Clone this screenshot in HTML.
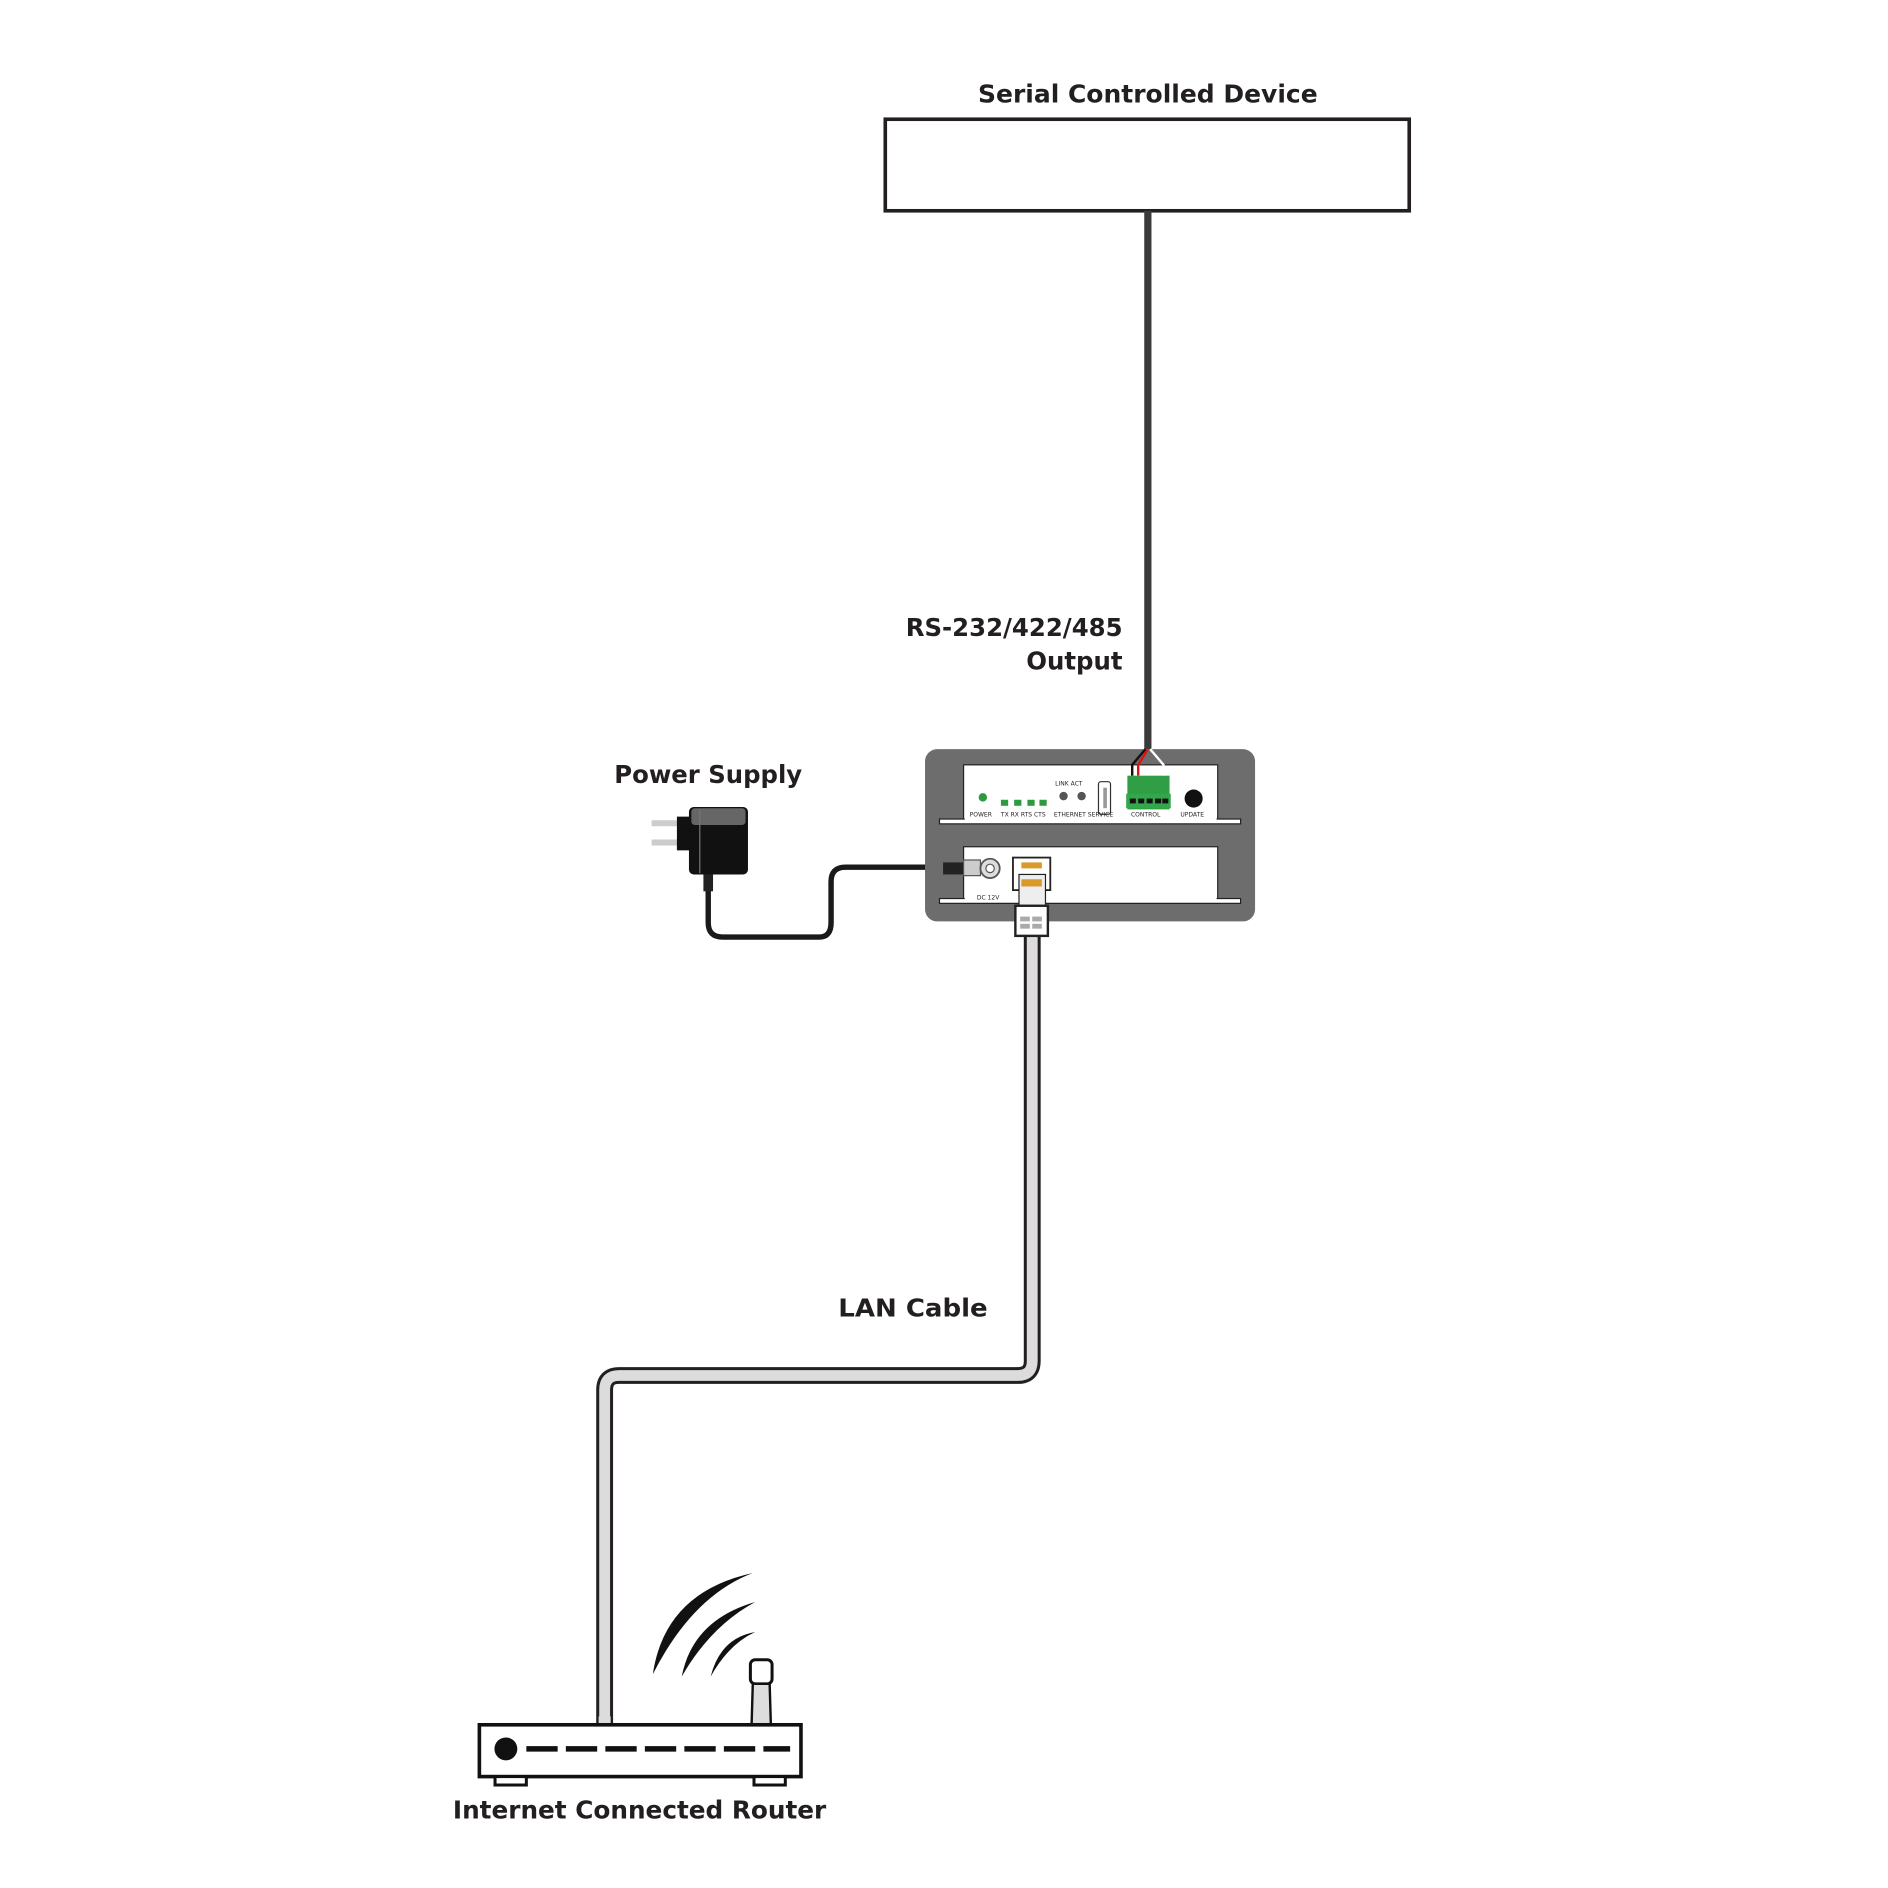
<!DOCTYPE html>
<html><head><meta charset="utf-8"><style>
html,body{margin:0;padding:0;background:#fff;}
svg{display:block;}
text{font-family:"DejaVu Sans","Liberation Sans",sans-serif;font-weight:bold;fill:#231f20;}
</style></head><body>
<svg width="1888" height="1888" viewBox="0 0 1567.5 1567.5" xmlns="http://www.w3.org/2000/svg">
<rect width="1567.5" height="1567.5" fill="#fff"/>
<text x="953" y="85" font-size="21" text-anchor="middle" textLength="282" lengthAdjust="spacingAndGlyphs">Serial Controlled Device</text>
<rect x="735" y="99" width="435" height="76" fill="#fff" stroke="#231f20" stroke-width="3"/>
<line x1="953" y1="175" x2="953" y2="622" stroke="#3a3a3a" stroke-width="6"/>
<text x="932" y="528" font-size="21" text-anchor="end" textLength="180" lengthAdjust="spacingAndGlyphs">RS-232/422/485</text>
<text x="932" y="556" font-size="21" text-anchor="end" textLength="80" lengthAdjust="spacingAndGlyphs">Output</text>

<path d="M588 727 V766 Q588 778 600 778 H680 Q690 778 690 766 V732 Q690 720 702 720 H800" fill="none" stroke="#1a1a1a" stroke-width="4.5"/>
<text x="588" y="650" font-size="21" text-anchor="middle" textLength="156" lengthAdjust="spacingAndGlyphs">Power Supply</text>
<rect x="541" y="681" width="22" height="5" fill="#ccc"/>
<rect x="541" y="697" width="22" height="5" fill="#ccc"/>
<rect x="562" y="678" width="12" height="28" fill="#111"/>
<rect x="572" y="670" width="49" height="56" rx="4" fill="#111"/>
<rect x="574" y="671" width="45" height="14" rx="3" fill="#666"/>
<line x1="581" y1="672" x2="581" y2="725" stroke="#777" stroke-width="1"/>
<rect x="584" y="726" width="8" height="14" fill="#222"/>

<path d="M857 770 V1130 Q857 1142 845 1142 H514 Q502 1142 502 1154 V1432" fill="none" stroke="#231f20" stroke-width="14" stroke-linejoin="round"/>
<path d="M857 770 V1130 Q857 1142 845 1142 H514 Q502 1142 502 1154 V1432" fill="none" stroke="#dcdcdc" stroke-width="9" stroke-linejoin="round"/>
<text x="758" y="1093" font-size="21" text-anchor="middle" textLength="124" lengthAdjust="spacingAndGlyphs">LAN Cable</text>

<rect x="768" y="622" width="274" height="143" rx="10" fill="#6d6d6d"/>
<rect x="800" y="635" width="211" height="48" fill="#fff" stroke="#222" stroke-width="1"/>
<rect x="780" y="680" width="250" height="4" fill="#fff" stroke="#222" stroke-width="1"/>
<rect x="800" y="703" width="211" height="47" fill="#fff" stroke="#222" stroke-width="1"/>
<rect x="780" y="746" width="250" height="4" fill="#fff" stroke="#222" stroke-width="1"/>
<rect x="801" y="636" width="209" height="46" fill="#fff"/>
<rect x="801" y="704" width="209" height="45" fill="#fff"/>
<circle cx="816" cy="662" r="3.5" fill="#2d9a3f"/>
<g fill="#2d9a3f"><rect x="831" y="664" width="6" height="5"/><rect x="842" y="664" width="6" height="5"/><rect x="853" y="664" width="6" height="5"/><rect x="863" y="664" width="6" height="5"/></g>
<circle cx="883" cy="661" r="3.5" fill="#555"/><circle cx="898" cy="661" r="3.5" fill="#555"/>
<rect x="912" y="649" width="10" height="27" rx="2" fill="#fff" stroke="#333" stroke-width="1"/>
<rect x="916" y="654" width="3" height="17" fill="#999"/>
<rect x="936" y="644" width="35" height="28" fill="#2f9e44"/>
<rect x="935" y="659" width="37" height="12" fill="#33a84a"/>
<g fill="#111"><rect x="938" y="663" width="5" height="4"/><rect x="945" y="663" width="5" height="4"/><rect x="952" y="663" width="5" height="4"/><rect x="959" y="663" width="5" height="4"/><rect x="965" y="663" width="5" height="4"/></g>
<path d="M951 622 L940 635 V644" stroke="#111" stroke-width="2" fill="none"/>
<path d="M953 622 L945 635 V644" stroke="#d11" stroke-width="2" fill="none"/>
<path d="M955 622 L966 635 V644" stroke="#fff" stroke-width="2" fill="none"/>
<circle cx="991" cy="663" r="7.5" fill="#111"/>
<g font-size="5" fill="#222">
<text x="805" y="678" style="font-weight:normal">POWER</text>
<text x="831" y="678" style="font-weight:normal">TX RX RTS CTS</text>
<text x="876" y="652" style="font-weight:normal">LINK ACT</text>
<text x="875" y="678" style="font-weight:normal">ETHERNET SERVICE</text>
<text x="939" y="678" style="font-weight:normal">CONTROL</text>
<text x="980" y="678" style="font-weight:normal">UPDATE</text>
<text x="811" y="747" style="font-weight:normal">DC 12V</text>
</g>
<rect x="783" y="716" width="18" height="10" fill="#222"/>
<rect x="800" y="714" width="14" height="13" fill="#ccc" stroke="#555" stroke-width="1"/>
<circle cx="822" cy="721" r="8" fill="#ddd" stroke="#555" stroke-width="1.5"/>
<circle cx="822" cy="721" r="3.5" fill="#fff" stroke="#555" stroke-width="1"/>
<rect x="841" y="712" width="31" height="27" fill="#fff" stroke="#222" stroke-width="1.5"/>
<rect x="848" y="716" width="17" height="5" fill="#d99a2b"/>
<rect x="846" y="726" width="22" height="30" fill="#eee" stroke="#222" stroke-width="1"/>
<rect x="848" y="730" width="17" height="6" fill="#d99a2b"/>
<rect x="843" y="752" width="27" height="25" fill="#fff" stroke="#222" stroke-width="2"/>
<g fill="#aaa"><rect x="847" y="761" width="8" height="4"/><rect x="857" y="761" width="8" height="4"/><rect x="847" y="767" width="8" height="4"/><rect x="857" y="767" width="8" height="4"/></g>

<path d="M542 1390 Q552 1322 625 1306 Q575 1325 542 1390Z" fill="#111"/>
<path d="M566 1392 Q575 1345 627 1330 Q590 1350 566 1392Z" fill="#111"/>
<path d="M590 1392 Q598 1360 627 1355 Q605 1365 590 1392Z" fill="#111"/>
<rect x="623" y="1378" width="18" height="20" rx="4" fill="#fff" stroke="#111" stroke-width="2.5"/>
<path d="M625 1398 L624 1432 H640 L639 1398Z" fill="#ddd" stroke="#111" stroke-width="2"/>
<rect x="497" y="1425" width="10" height="8" fill="#dcdcdc"/>
<rect x="398" y="1432" width="267" height="43" fill="#fff" stroke="#111" stroke-width="3"/>
<rect x="411" y="1475" width="26" height="7" fill="#fff" stroke="#111" stroke-width="2.5"/>
<rect x="626" y="1475" width="26" height="7" fill="#fff" stroke="#111" stroke-width="2.5"/>
<circle cx="420" cy="1452" r="9.5" fill="#111"/>
<line x1="437" y1="1452" x2="656" y2="1452" stroke="#111" stroke-width="4.5" stroke-dasharray="26,6.8"/>
<text x="531" y="1510" font-size="21" text-anchor="middle" textLength="310" lengthAdjust="spacingAndGlyphs">Internet Connected Router</text>
</svg>
</body></html>
